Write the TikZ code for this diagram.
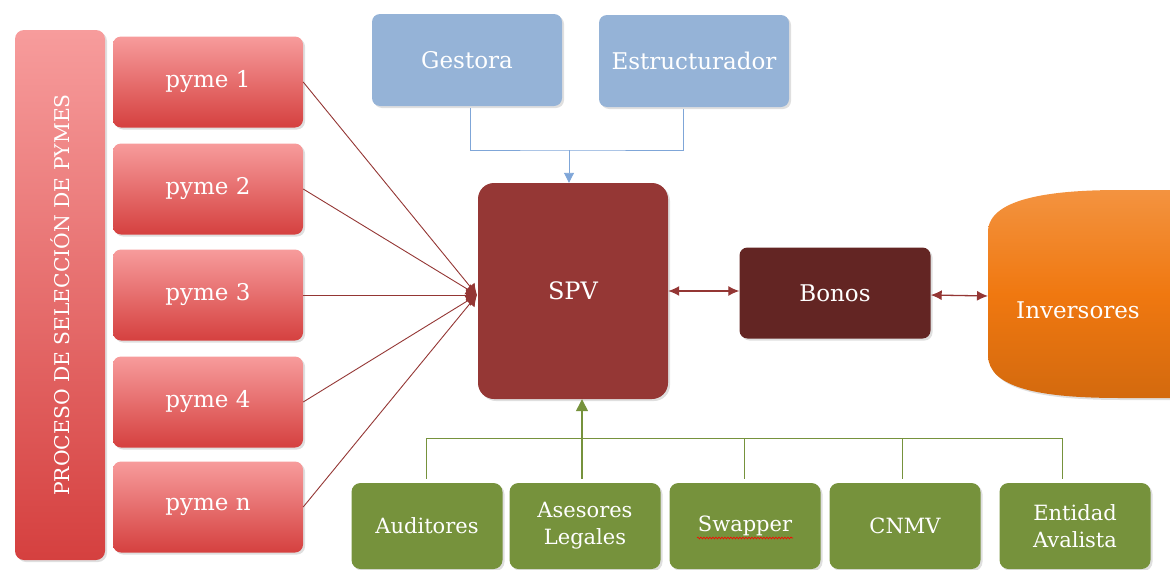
\documentclass[tikz,border=0pt]{standalone}
\usepackage{fontspec}
\setmainfont{DejaVu Serif}
\usetikzlibrary{arrows.meta,shadows,calc,decorations.pathmorphing}
\definecolor{pinkA}{HTML}{F79C9C}
\definecolor{redB}{HTML}{D5403F}
\definecolor{blueBox}{HTML}{95B3D7}
\definecolor{blueLine}{HTML}{7FA6D8}
\definecolor{spvC}{HTML}{953735}
\definecolor{bonC}{HTML}{632523}
\definecolor{orgC}{HTML}{F07810}
\definecolor{grnC}{HTML}{76923C}
\definecolor{lnRed}{HTML}{943634}
\begin{document}
\begin{tikzpicture}[x=1pt,y=-1pt,
  shd/.style={drop shadow={opacity=0.25,shadow xshift=2pt,shadow yshift=-2pt}},
  pymebox/.style={shd,rounded corners=8pt,minimum width=190pt,minimum height=91pt,
     top color=pinkA,bottom color=redB,text=white,font=\fontsize{23}{27}\selectfont},
  bluebox/.style={shd,rounded corners=8pt,minimum width=190pt,minimum height=92pt,
     fill=blueBox,text=white,font=\fontsize{23}{27}\selectfont},
  greenbox/.style={shd,rounded corners=9pt,minimum width=151pt,minimum height=86pt,
     fill=grnC,text=white,align=center,font=\fontsize{21}{27}\selectfont},
  redline/.style={draw=lnRed,line width=0.9pt},
  dbl/.style={draw=lnRed,line width=1.3pt,{Latex[length=11pt,width=10pt]}-{Latex[length=11pt,width=10pt]}}
]
\useasboundingbox (0,0) rectangle (1170,570);
\begin{scope}
\clip (0,0) rectangle (1170,570);
% left process box
\node[shd,rounded corners=9pt,minimum width=90pt,minimum height=530pt,
  top color=pinkA,bottom color=redB] (proc) at (60,295) {};
\node[rotate=90,text=white,font=\fontsize{20.3}{24}\selectfont] (proct) at (60,295) {PROCESO DE SELECCIÓN DE PYMES};
% pymes
\node[pymebox] (p1) at (208,82) {pyme 1};
\node[pymebox] (p2) at (208,189) {pyme 2};
\node[pymebox] (p3) at (208,295) {pyme 3};
\node[pymebox] (p4) at (208,402) {pyme 4};
\node[pymebox] (pn) at (208,507) {pyme n};
% top
\node[bluebox] (g) at (467,60) {Gestora};
\node[bluebox] (e) at (694,61) {Estructurador};
% SPV
\node[shd,rounded corners=16pt,minimum width=190pt,minimum height=216pt,fill=spvC,
  text=white,font=\fontsize{24}{28}\selectfont] (spv) at (573,291) {SPV};
\node[shd,rounded corners=8pt,minimum width=191pt,minimum height=91pt,fill=bonC,
  text=white,font=\fontsize{23}{27}\selectfont] (bon) at (835,293) {Bonos};
% Inversores
\path[shd,top color=orgC!80!white,bottom color=orgC!88!black,middle color=orgC]
  (988,232) .. controls (988,196) and (1060,190) .. (1120,190)
  -- (1180,190) -- (1180,398) -- (1120,398)
  .. controls (1040,398) and (988,388) .. (988,355) -- cycle;
\node[text=white,font=\fontsize{23}{27}\selectfont] (inv) at (1078,310) {Inversores};
\coordinate (invw) at (988,296);
% green boxes
\node[greenbox] (a1) at (427,526) {Auditores};
\node[greenbox] (a2) at (585,526) {Asesores\\Legales};
\node[greenbox] (a3) at (745,526) {Swapper};
\node[greenbox] (a4) at (905,526) {CNMV};
\node[greenbox] (a5) at (1075,526) {Entidad\\Avalista};
\draw[red,line width=0.6pt,decorate,decoration={snake,amplitude=0.9pt,segment length=3pt}]
  (697,538) -- (793,538);
% pyme connectors
\coordinate (spvin) at (477,295);
\foreach \p in {p1,p2,p3,p4,pn}{
  \draw[redline,-{Latex[length=11pt,width=12pt]}] (\p.east) -- (spvin);
}
% blue connectors
\coordinate (bj) at (569,150);
\draw[draw=blueLine,line width=0.9pt] ($(g.south)+(3,2)$) |- (bj) -| ($(e.south)+(-11,2)$);
\draw[draw=blueLine,line width=0.9pt,-{Triangle[length=10pt,width=10pt]}] (bj) -- (spv.north -| bj);
% double arrows
\draw[dbl] (spv.east) -- (bon.west |- spv.east);
\draw[dbl] ($(bon.east)+(0,2)$) -- (invw);
% green connectors
\coordinate (gj) at (582,440);
\draw[draw=grnC,line width=0.9pt] ($(a1.north)+(-1,-4)$) |- ($(a5.north)+(-13,-44)$) -- ($(a5.north)+(-13,-4)$);
\draw[draw=grnC,line width=0.9pt] ($(a3.north)+(-1,-4)$) -- ++(0,-40);
\draw[draw=grnC,line width=0.9pt] ($(a4.north)+(-3,-4)$) -- ++(0,-40);
\draw[draw=grnC,line width=1.3pt,-{Triangle[length=12pt,width=12pt]}] ($(a2.north)+(-3,-4)$) -- (spv.south -| gj);
\end{scope}
\end{tikzpicture}
\end{document}
